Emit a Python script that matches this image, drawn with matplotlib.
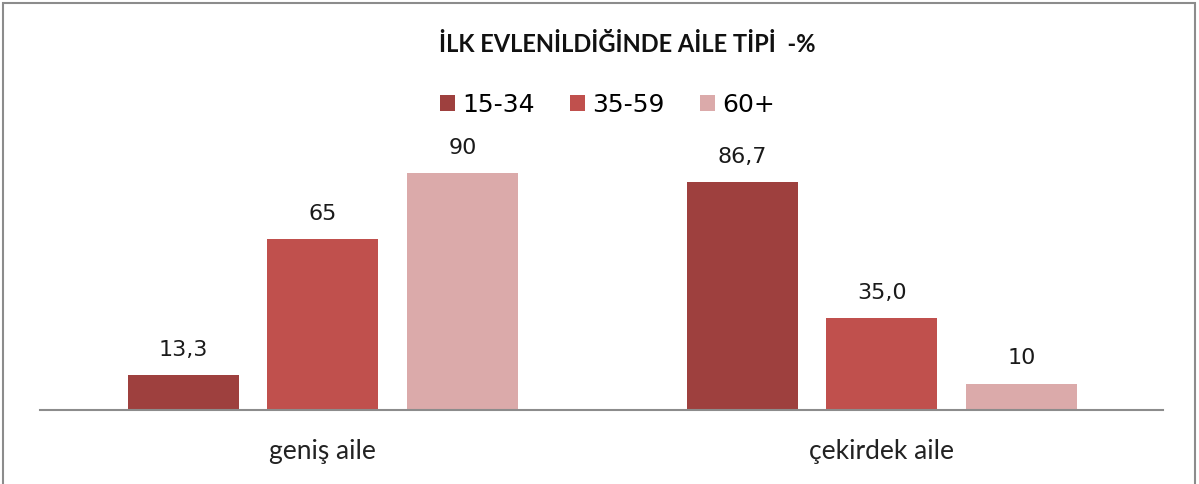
import numpy as np
import matplotlib
matplotlib.use("Agg")
from matplotlib import pyplot as plt
from matplotlib.patches import Rectangle

categories = ["geniş aile", "çekirdek aile"]
series_names = ["15-34", "35-59", "60+"]
values_1534 = [13.3, 86.7]
values_3559 = [65, 35.0]
values_60 = [90, 10]
label_1534 = ["13,3", "86,7"]
label_3559 = ["65", "35,0"]
label_60 = ["90", "10"]

colors = ["#9E403E", "#C0504D", "#DBAAAA"]

fig = plt.figure(figsize=(11.99, 4.84), dpi=100)
fig.patch.set_facecolor("white")
# thin gray frame round the chart area (bottom edge cut off in the original)
fig.add_artist(Rectangle((3 / 1199, -0.05), 1192 / 1199, 1.05 - 3 / 484,
                         transform=fig.transFigure, fill=False,
                         edgecolor="#8c8c8c", linewidth=1.5))

ax = fig.add_axes([40 / 1199, 74 / 484, 1123 / 1199, 263 / 484])

x = np.arange(len(categories))
w = 0.1986
step = 0.2496
all_vals = [values_1534, values_3559, values_60]
all_labels = [label_1534, label_3559, label_60]
bars = []
for i, (vals, labs) in enumerate(zip(all_vals, all_labels)):
    b = ax.bar(x + (i - 1) * step, vals, w, color=colors[i], label=series_names[i])
    ax.bar_label(b, labels=labs, padding=11, fontsize=16, family="DejaVu Sans",
                 color="#1a1a1a")
    bars.append(b)

ax.set_xlim(-0.506, 1.503)
ax.set_ylim(0, 100)
ax.set_yticks([])
ax.set_xticks(x)
ax.set_xticklabels(categories, fontsize=19, family="Lato", color="#222222")
ax.tick_params(axis="x", length=0, pad=21)
for s in ["top", "left", "right"]:
    ax.spines[s].set_visible(False)
ax.spines["bottom"].set_color("#8c8c8c")
ax.spines["bottom"].set_linewidth(1.5)

fig.text(0.523, 1 - 45 / 484, "İLK EVLENİLDİĞİNDE AİLE TİPİ  -%", ha="center",
         va="center", fontsize=17, fontweight="bold", family="Lato", color="#111111")

fig.legend(handles=bars, labels=series_names, loc="center",
           bbox_to_anchor=(0.5065, 1 - 105 / 484), ncol=3, frameon=False,
           prop={"family": "DejaVu Sans", "size": 18},
           handlelength=0.6, handleheight=0.6, handletextpad=0.3,
           columnspacing=1.4)

fig.savefig("out.png", dpi=100)
